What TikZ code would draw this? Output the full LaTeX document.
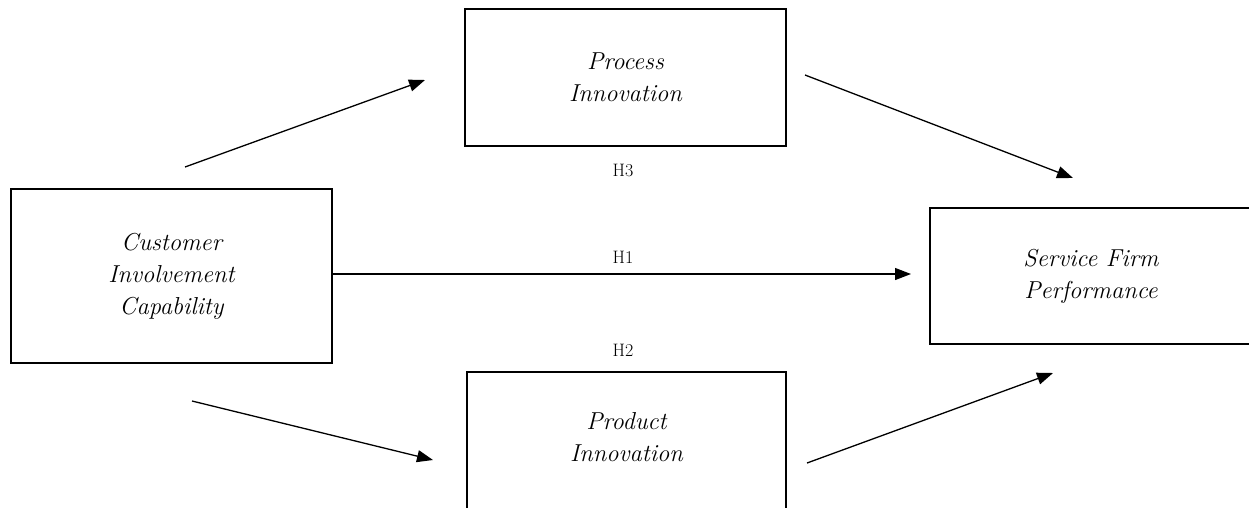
\documentclass[tikz,border=0pt]{standalone}
\usetikzlibrary{arrows.meta}
\begin{document}
\begin{tikzpicture}[x=1pt, y=-1pt,
  box/.style={draw, line width=1.2pt, inner sep=0pt, align=center,
    font=\fontsize{24.5}{32}\selectfont\itshape},
  boxtext/.style={inner sep=0pt, align=center,
    font=\fontsize{24.5}{32}\selectfont\itshape},
  hyp/.style={inner sep=0pt, font=\fontsize{18}{20}\selectfont},
  link/.style={line width=1.3pt, -{Triangle[length=16pt, width=12pt]}}]
\useasboundingbox (0,0) rectangle (1249,507);
\clip (0,0) rectangle (1249,507);

% constructs
\node[box, minimum width=321pt, minimum height=174pt] (cic) at (171.5,276)
  {Customer\\Involvement\\Capability};
\node[box, minimum width=321pt, minimum height=137pt] (proc) at (625.5,77.5)
  {Process\\Innovation};
\node[box, minimum width=322pt, minimum height=136pt] (sfp) at (1091,276)
  {Service Firm\\Performance};
\node[box, minimum width=319pt, minimum height=150pt] (prod) at (626.5,447) {};
\node[boxtext] (prodtext) at (626.5,437) {Product\\Innovation};

% hypothesis labels
\node[hyp] (h3) at (623,170) {H3};
\node[hyp] (h1) at (623,257) {H1};
\node[hyp] (h2) at (623,350) {H2};

% free-standing arrow ends
\coordinate (a1s) at (185,167);  \coordinate (a1e) at (425,80);
\coordinate (a2s) at (805,75);   \coordinate (a2e) at (1073,178);
\coordinate (a3s) at (192,401);  \coordinate (a3e) at (433,460);
\coordinate (a4s) at (807,463);  \coordinate (a4e) at (1053,373);
\coordinate (h1e) at (911,274);

% paths
\draw[link] (a1s) -- (a1e);
\draw[link] (a2s) -- (a2e);
\draw[link] (a3s) -- (a3e);
\draw[link] (a4s) -- (a4e);
\draw[link] (cic.east |- h1e) -- (h1e);
\end{tikzpicture}
\end{document}
